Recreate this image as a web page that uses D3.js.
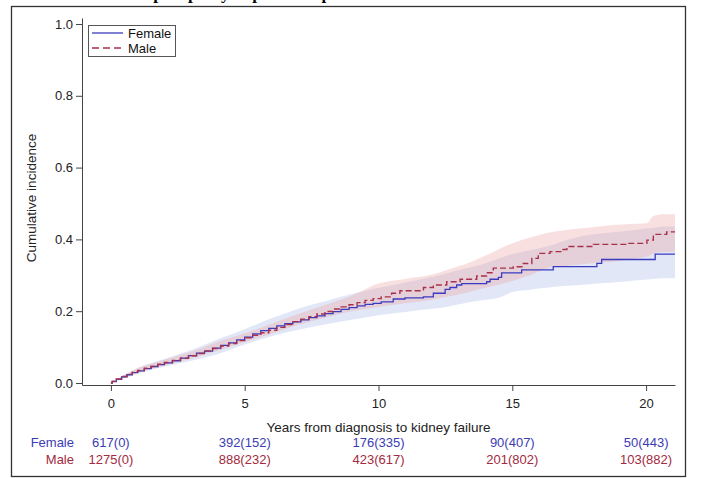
<!DOCTYPE html>
<html>
<head>
<meta charset="utf-8">
<script src="https://cdn.jsdelivr.net/npm/d3@7"></script>
<style>
  html, body { margin: 0; padding: 0; background: #fff; }
  svg { display: block; }
  text { font-family: "Liberation Sans", Arial, sans-serif; }
</style>
</head>
<body>
<svg id="chart" width="702" height="478"></svg>
<script>
// Cumulative incidence of kidney failure by sex (step estimates with pointwise bands)

const femaleTime = [0, 0.05, 0.2, 0.4, 0.6, 0.8, 1.0, 1.25, 1.5, 1.75, 2.0, 2.3, 2.6, 2.9, 3.2, 3.5, 3.8, 4.1, 4.4, 4.7,
  5.0, 5.3, 5.6, 5.9, 6.2, 6.5, 6.8, 7.1, 7.4, 7.7, 8.0, 8.3, 8.6, 8.9, 9.2, 9.5, 9.8, 10.1,
  10.55, 10.99, 11.68, 12.05, 12.49, 12.67, 12.92, 13.11, 14.04, 14.17, 14.48, 14.6, 15.35, 16.53, 18.16, 18.34, 20.34];
const femaleCI = [0, 0.004, 0.010, 0.017, 0.023, 0.029, 0.034, 0.040, 0.046, 0.051, 0.056, 0.062, 0.069, 0.076, 0.083, 0.089, 0.097, 0.105, 0.112, 0.120,
  0.128, 0.137, 0.146, 0.152, 0.159, 0.165, 0.170, 0.176, 0.182, 0.187, 0.193, 0.199, 0.205, 0.210, 0.215, 0.219, 0.222, 0.226,
  0.234, 0.237, 0.240, 0.250, 0.261, 0.266, 0.273, 0.277, 0.282, 0.289, 0.294, 0.307, 0.315, 0.324, 0.333, 0.344, 0.359];

const maleTime = [0, 0.05, 0.2, 0.4, 0.6, 0.8, 1.0, 1.25, 1.5, 1.75, 2.0, 2.3, 2.6, 2.9, 3.2, 3.5, 3.8, 4.1, 4.4, 4.7,
  5.0, 5.3, 5.6, 5.9, 6.2, 6.5, 6.8, 7.1, 7.4, 7.7, 8.0, 8.3, 8.6, 8.9, 9.2, 9.5, 9.8, 10.1,
  10.49, 10.80, 11.68, 12.05, 12.55, 13.05, 13.67, 14.04, 14.29, 15.04, 15.41, 15.73, 15.97, 16.41, 16.85, 17.04, 18.03, 19.28, 20.03, 20.27, 20.77];
const maleCI = [0, 0.005, 0.011, 0.018, 0.024, 0.030, 0.035, 0.041, 0.046, 0.052, 0.057, 0.063, 0.069, 0.076, 0.082, 0.089, 0.096, 0.103, 0.110, 0.118,
  0.126, 0.133, 0.140, 0.147, 0.155, 0.163, 0.171, 0.178, 0.185, 0.192, 0.199, 0.206, 0.212, 0.218, 0.224, 0.230, 0.235, 0.240,
  0.250, 0.257, 0.266, 0.273, 0.282, 0.289, 0.298, 0.307, 0.320, 0.324, 0.333, 0.347, 0.361, 0.366, 0.372, 0.380, 0.386, 0.389, 0.398, 0.414, 0.421];

// Confidence band limits
const bandTime = [0, 1, 2, 3, 4, 5, 6, 7, 8, 9, 10, 11, 12, 12.55, 13.2, 13.8, 14.42, 15.04, 15.66, 16.28, 16.9, 17.53, 18.15, 18.77, 19.4, 20.03, 20.27, 20.65];
const femaleLower = [0, 0.026, 0.045, 0.062, 0.081, 0.107, 0.130, 0.148, 0.163, 0.176, 0.189, 0.198, 0.207, 0.212, 0.222, 0.230, 0.236, 0.254, 0.260, 0.265, 0.270, 0.273, 0.277, 0.280, 0.284, 0.288, 0.290, 0.292];
const femaleUpper = [0, 0.042, 0.067, 0.092, 0.122, 0.150, 0.180, 0.207, 0.228, 0.248, 0.265, 0.280, 0.295, 0.305, 0.318, 0.329, 0.345, 0.360, 0.370, 0.380, 0.395, 0.408, 0.415, 0.420, 0.425, 0.430, 0.432, 0.436];
const maleLower = [0, 0.029, 0.049, 0.068, 0.090, 0.114, 0.137, 0.162, 0.182, 0.200, 0.212, 0.222, 0.232, 0.240, 0.250, 0.262, 0.273, 0.285, 0.300, 0.319, 0.325, 0.330, 0.335, 0.338, 0.345, 0.352, 0.360, 0.365];
const maleUpper = [0, 0.041, 0.065, 0.087, 0.115, 0.138, 0.165, 0.192, 0.217, 0.243, 0.277, 0.290, 0.302, 0.315, 0.330, 0.348, 0.370, 0.390, 0.405, 0.418, 0.425, 0.430, 0.435, 0.440, 0.443, 0.445, 0.465, 0.470];

// Axis ticks and numbers at risk (cumulative events)
const xTicks = [0, 5, 10, 15, 20];
const yTicks = [0, 0.2, 0.4, 0.6, 0.8, 1.0];
const riskTimes = [0, 5, 10, 15, 20];
const riskFemale = ["617(0)", "392(152)", "176(335)", "90(407)", "50(443)"];
const riskMale = ["1275(0)", "888(232)", "423(617)", "201(802)", "103(882)"];

const femaleColor = "#3b3bbf";
const maleColor = "#a8304a";

const svg = d3.select("#chart");

// Heading (runs off the top edge)
const titleText = "Incidence in nephropathy in pediatric patients";
const titleFont = "bold 17px 'Liberation Serif', 'Times New Roman', serif";
const probe = svg.append("text").style("font", titleFont).text("Incidence in ");
const prefixW = probe.node().getComputedTextLength();
probe.remove();
svg.append("text")
  .attr("x", 132 - prefixW).attr("y", -1)
  .style("font", titleFont).attr("fill", "#000")
  .text(titleText);

// Outer frame
svg.append("rect")
  .attr("x", 11.5).attr("y", 6.5).attr("width", 674).attr("height", 470)
  .attr("fill", "none").attr("stroke", "#333").attr("stroke-width", 1.3);

const x = d3.scaleLinear().domain([-1.08, 21.08]).range([82, 675]);
const y = d3.scaleLinear().domain([-0.0056, 1.0167]).range([385, 18]);
const xEnd = x.domain()[1];

function series(times, vals) {
  const pts = times.map((t, i) => [t, vals[i]]);
  pts.push([xEnd, vals[vals.length - 1]]);
  return pts;
}
function band(lo, hi) {
  const pts = bandTime.map((t, i) => ({ t, lo: lo[i], hi: hi[i] }));
  pts.push({ t: xEnd, lo: lo[lo.length - 1], hi: hi[hi.length - 1] });
  return pts;
}

const area = d3.area().curve(d3.curveMonotoneX)
  .x(d => x(d.t)).y0(d => y(d.lo)).y1(d => y(d.hi));
const line = d3.line().curve(d3.curveStepAfter)
  .x(d => x(d[0])).y(d => y(d[1]));

svg.append("path").datum(band(femaleLower, femaleUpper))
  .attr("d", area).attr("fill", "#9aaee2").attr("fill-opacity", 0.3);
svg.append("path").datum(band(maleLower, maleUpper))
  .attr("d", area).attr("fill", "#eca0a0").attr("fill-opacity", 0.33);

svg.append("path").datum(series(femaleTime, femaleCI))
  .attr("d", line).attr("fill", "none")
  .attr("stroke", femaleColor).attr("stroke-width", 1.3);
svg.append("path").datum(series(maleTime, maleCI))
  .attr("d", line).attr("fill", "none")
  .attr("stroke", maleColor).attr("stroke-width", 1.4)
  .attr("stroke-dasharray", "6,3");

// Axes
const axisColor = "#444";
const yAxis = svg.append("g").attr("transform", "translate(82,0)")
  .call(d3.axisLeft(y).tickValues(yTicks).tickFormat(d3.format(".1f")).tickSize(6).tickSizeOuter(0));
const xAxis = svg.append("g").attr("transform", "translate(0,385)")
  .call(d3.axisBottom(x).tickValues(xTicks).tickFormat(d3.format("d")).tickSize(6).tickSizeOuter(0));
[xAxis, yAxis].forEach(g => {
  g.selectAll("path, line").attr("stroke", axisColor);
  g.selectAll("text").attr("fill", "#222").style("font-size", "13px")
    .style("font-family", "'Liberation Sans', Arial, sans-serif");
});
xAxis.selectAll("text").attr("dy", "1.05em");

svg.append("text")
  .attr("transform", "translate(36,198) rotate(-90)")
  .attr("text-anchor", "middle").attr("font-size", 13.5).attr("fill", "#222")
  .text("Cumulative incidence");
svg.append("text")
  .attr("x", x(10)).attr("y", 432)
  .attr("text-anchor", "middle").attr("font-size", 13.5).attr("fill", "#222")
  .text("Years from diagnosis to kidney failure");

// Legend
const lg = svg.append("g");
lg.append("rect").attr("x", 88.5).attr("y", 25.5).attr("width", 87).attr("height", 31)
  .attr("fill", "#fff").attr("stroke", "#555");
const legendItems = [
  { label: "Female", color: femaleColor, dash: null, yy: 33 },
  { label: "Male", color: maleColor, dash: "7,4", yy: 48 }
];
legendItems.forEach(it => {
  lg.append("line").attr("x1", 92).attr("x2", 123).attr("y1", it.yy).attr("y2", it.yy)
    .attr("stroke", it.color).attr("stroke-width", 1.3)
    .attr("stroke-dasharray", it.dash);
  lg.append("text").attr("x", 128).attr("y", it.yy + 4.5)
    .attr("font-size", 13).attr("fill", "#111").text(it.label);
});

// Numbers at risk table
const rows = [
  { label: "Female", vals: riskFemale, color: "#3c3cb4", yy: 447 },
  { label: "Male", vals: riskMale, color: "#a32a40", yy: 464 }
];
rows.forEach(r => {
  svg.append("text").attr("x", 74).attr("y", r.yy).attr("text-anchor", "end")
    .attr("font-size", 13).attr("fill", r.color).text(r.label);
  svg.append("g").selectAll("text").data(r.vals).join("text")
    .attr("x", (d, i) => x(riskTimes[i])).attr("y", r.yy)
    .attr("text-anchor", "middle").attr("font-size", 13).attr("fill", r.color)
    .text(d => d);
});
</script>
</body>
</html>
